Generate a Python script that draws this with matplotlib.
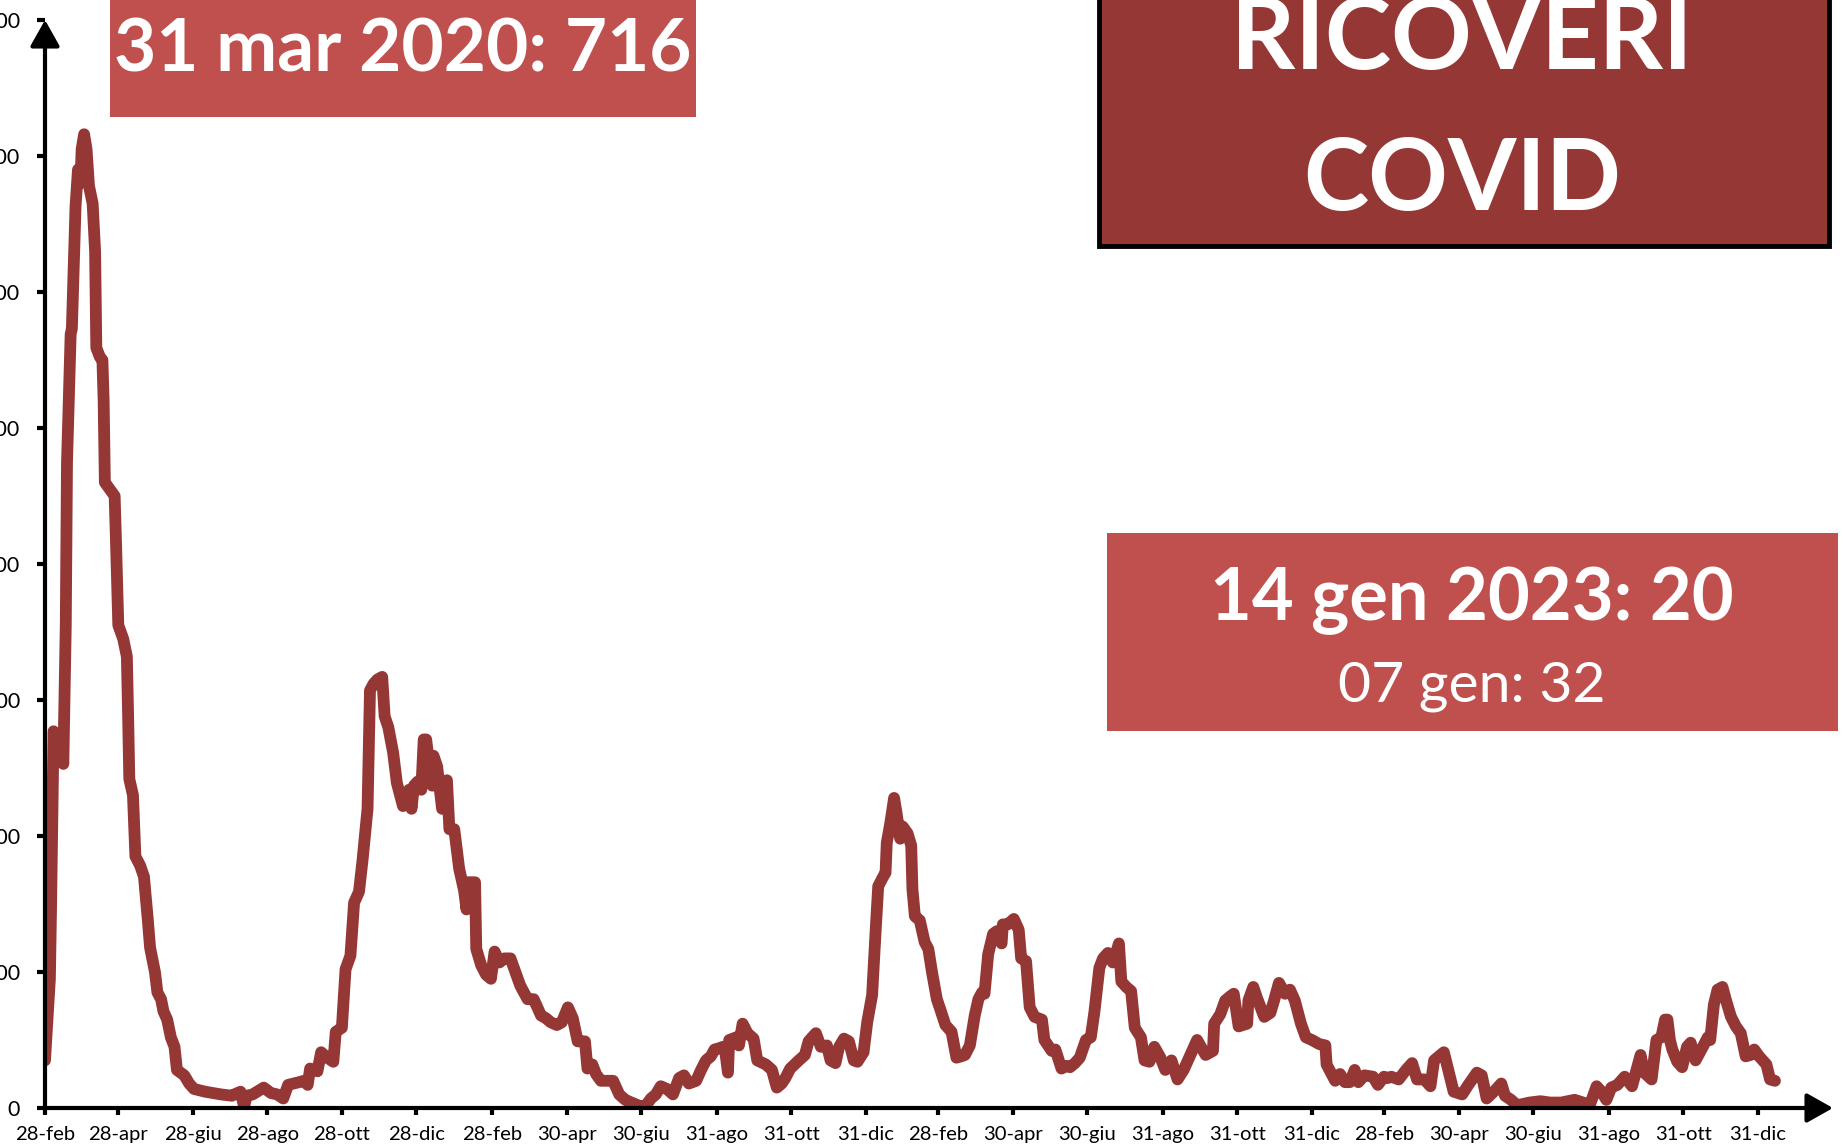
import numpy as np
import pandas as pd
import matplotlib
matplotlib.use("Agg")
import matplotlib.pyplot as plt
from matplotlib.patches import Rectangle

plt.rcParams["font.family"] = "Lato"

# daily covid admissions, x = days after 28 feb 2020
start = pd.Timestamp("2020-02-28")

days_2020 = [0, 4, 5, 7, 10, 14, 15, 17, 18, 21, 22, 25, 27, 29, 30, 32, 34, 36, 39,
             41, 42, 45, 47, 48, 49, 53, 57, 58, 60, 64, 67, 68, 69, 72, 74, 78, 81,
             84, 86, 90, 92, 95, 97, 100, 103, 106, 108, 114, 118, 122, 131, 144,
             153, 155, 160, 163, 165, 170, 179, 185, 190, 195, 199, 208, 212, 215,
             217, 223, 226, 231, 236, 238, 243, 246, 250, 253, 257, 260, 264, 266,
             269, 272, 276, 278, 281, 285, 288, 293, 296, 298, 300, 302, 305]
vals_2020 = [35, 95, 150, 277, 270, 265, 253, 355, 474, 569, 573, 663, 690, 680, 705,
             716, 705, 678, 665, 630, 559, 552, 550, 520, 460, 455, 450, 420, 355,
             345, 332, 290, 242, 230, 185, 178, 170, 140, 118, 100, 85, 80, 71, 65,
             52, 45, 28, 24, 18, 14, 12, 10, 9, 10, 12, 1, 9, 10, 15, 11, 10, 7, 17,
             19, 20, 17, 29, 27, 41, 37, 34, 56, 59, 102, 112, 151, 159, 183, 220,
             307, 312, 315, 317, 288, 280, 261, 239, 222, 230, 234, 220, 237, 240]

days_2021 = [308, 310, 312, 314, 317, 318, 321, 325, 329, 331, 335, 339, 343, 345,
             346, 352, 353, 357, 361, 365, 368, 372, 376, 381, 385, 389, 395, 400,
             406, 410, 414, 419, 423, 428, 432, 436, 442, 444, 448, 451, 455, 465,
             470, 475, 480, 488, 492, 496, 500, 504, 509, 514, 519, 523, 527, 533,
             537, 541, 545, 548, 552, 555, 557, 559, 560, 566, 568, 571, 575, 580,
             583, 590, 595, 599, 603, 606, 610, 617, 622, 625, 631, 635, 640, 643,
             647, 650, 654, 658, 662, 665, 670]
vals_2021 = [234, 271, 271, 256, 237, 259, 251, 220, 241, 205, 205, 176, 160, 146,
             166, 166, 117, 105, 98, 95, 115, 107, 110, 110, 100, 90, 80, 80, 68, 66,
             63, 61, 63, 74, 66, 49, 49, 29, 32, 25, 20, 20, 10, 6, 4, 1, 2, 7, 10,
             16, 14, 10, 22, 24, 18, 20, 28, 35, 38, 43, 44, 45, 40, 26, 50, 52, 46,
             62, 55, 51, 35, 32, 28, 15, 18, 22, 29, 35, 39, 49, 55, 45, 46, 35, 33,
             45, 51, 49, 35, 34, 41]

days_2022 = [673, 677, 680, 682, 686, 688, 689, 692, 695, 697, 700, 702, 706, 709,
             710, 712, 716, 720, 723, 726, 730, 733, 737, 742, 746, 750, 753, 757,
             761, 764, 767, 769, 772, 776, 779, 783, 784, 788, 793, 797, 799, 803,
             806, 810, 816, 818, 824, 827, 832, 836, 839, 843, 847, 852, 856, 859,
             863, 866, 870, 874, 877, 879, 881, 885, 889, 892, 897, 900, 904, 908,
             913, 917, 922, 927, 932, 938, 943, 950, 956, 957, 962, 966, 970, 973,
             977, 984, 985, 989, 992, 998, 1003, 1006, 1010, 1015, 1019, 1023, 1028,
             1032, 1037]
vals_2022 = [63, 83, 132, 163, 170, 173, 195, 210, 228, 217, 198, 207, 202, 193, 161,
             141, 138, 122, 117, 100, 80, 72, 61, 56, 37, 38, 39, 46, 68, 80, 85, 84,
             113, 128, 130, 121, 135, 135, 139, 131, 110, 108, 74, 67, 65, 50, 42, 43,
             29, 31, 30, 33, 37, 50, 52, 71, 103, 110, 114, 107, 115, 121, 93, 89, 86,
             59, 52, 35, 34, 45, 37, 28, 35, 21, 28, 40, 50, 39, 42, 62, 69, 79, 82,
             84, 60, 62, 79, 89, 81, 67, 70, 79, 92, 84, 87, 79, 62, 52, 50]

days_2023 = [1043, 1048, 1049, 1056, 1060, 1064, 1068, 1072, 1075, 1080, 1087, 1091,
             1096, 1099, 1102, 1108, 1114, 1119, 1123, 1129, 1134, 1137, 1141, 1145,
             1150, 1153, 1160, 1165, 1172, 1176, 1180, 1187, 1192, 1195, 1200, 1205,
             1215, 1224, 1232, 1241, 1252, 1259, 1264, 1270, 1274, 1278, 1282, 1287,
             1293, 1299, 1306, 1309, 1315, 1319, 1323, 1326, 1328, 1330, 1332, 1336,
             1340, 1344, 1347, 1351, 1357, 1361, 1363, 1366, 1369, 1373, 1376, 1380,
             1384, 1388, 1392, 1396, 1399, 1403, 1409, 1412, 1416]
vals_2023 = [47, 46, 32, 20, 25, 19, 19, 28, 19, 24, 23, 17, 23, 22, 23, 21, 28, 33,
             21, 21, 16, 35, 38, 41, 23, 12, 10, 17, 26, 24, 7, 13, 18, 9, 6, 2, 4, 5,
             4, 4, 6, 4, 1, 16, 12, 6, 15, 17, 23, 16, 39, 26, 21, 50, 52, 65, 65, 50,
             43, 34, 30, 45, 48, 35, 45, 52, 50, 76, 87, 89, 79, 67, 60, 55, 38, 39,
             43, 38, 32, 21, 20]

tick_dates = ["2020-02-28", "2020-04-28", "2020-06-28", "2020-08-28", "2020-10-28",
              "2020-12-28", "2021-02-28", "2021-04-30", "2021-06-30", "2021-08-31",
              "2021-10-31", "2021-12-31", "2022-02-28", "2022-04-30", "2022-06-30",
              "2022-08-31", "2022-10-31", "2022-12-31", "2023-02-28", "2023-04-30",
              "2023-06-30", "2023-08-31", "2023-10-31", "2023-12-31"]
tick_labels = ["28-feb", "28-apr", "28-giu", "28-ago", "28-ott", "28-dic",
               "28-feb", "30-apr", "30-giu", "31-ago", "31-ott", "31-dic",
               "28-feb", "30-apr", "30-giu", "31-ago", "31-ott", "31-dic",
               "28-feb", "30-apr", "30-giu", "31-ago", "31-ott", "31-dic"]
y_ticks = [0, 100, 200, 300, 400, 500, 600, 700, 800]

peak_text = "31 mar 2020: 716"
title_lines = ["RICOVERI", "COVID"]
last_text = "14 gen 2023: 20"
prev_text = "07 gen: 32"

LINE = "#953735"
BOX = "#C0504D"
W, H = 1845, 1147


def fx(px):
    return px / W


def fy(px):
    # px measured from the top of the picture
    return 1 - px / H


days = np.concatenate([days_2020, days_2021, days_2022, days_2023])
vals = np.concatenate([vals_2020, vals_2021, vals_2022, vals_2023])
dates = start + pd.to_timedelta(days, unit="D")

fig = plt.figure(figsize=(W / 100, H / 100), dpi=100)
ax = fig.add_axes([fx(45), fy(1108), fx(1833 - 45), (1108 - 20) / H])

ax.plot(dates, vals, color=LINE, lw=8.5,
        solid_joinstyle="round", solid_capstyle="round", zorder=3)

ax.set_xlim(start, start + pd.Timedelta(days=1463.5))
ax.set_ylim(0, 800)

for s in ax.spines.values():
    s.set_visible(False)

arrow = dict(arrowstyle="-|>,head_length=0.8,head_width=0.45", color="black",
             lw=3, mutation_scale=20, shrinkA=0, shrinkB=0)
ax.annotate("", xy=(1, 0), xytext=(0, 0), xycoords="axes fraction",
            arrowprops=arrow, annotation_clip=False, zorder=5)
ax.annotate("", xy=(0, 1), xytext=(0, 0), xycoords="axes fraction",
            arrowprops=arrow, annotation_clip=False, zorder=5)

ax.set_xticks(pd.to_datetime(tick_dates))
ax.set_xticklabels(tick_labels)
ax.set_yticks(y_ticks)
ax.set_yticklabels([str(v) for v in y_ticks])
ax.tick_params(axis="x", direction="out", length=5, width=3, pad=8,
               labelsize=14.6, colors="black")
ax.tick_params(axis="y", direction="out", length=6, width=3, pad=12,
               labelsize=15.5, colors="black")

# boxes
fig.add_artist(Rectangle((fx(110), fy(117)), fx(696 - 110), 200 / H,
                         transform=fig.transFigure, facecolor=BOX,
                         edgecolor="none", zorder=1))
fig.text(fx(403), fy(71), peak_text, color="white", fontsize=52.5,
         fontweight="bold", ha="center", va="baseline", zorder=2)

fig.add_artist(Rectangle((fx(1099), fy(246)), fx(1829 - 1099), 300 / H,
                         transform=fig.transFigure, facecolor=LINE,
                         edgecolor="black", lw=3.5, zorder=1))
fig.text(fx(1462), fy(69), title_lines[0], color="white", fontsize=72,
         fontweight="bold", ha="center", va="baseline", zorder=2)
fig.text(fx(1462), fy(210), title_lines[1], color="white", fontsize=71,
         fontweight="bold", ha="center", va="baseline", zorder=2)

fig.add_artist(Rectangle((fx(1107), fy(731)), fx(1838 - 1107), (731 - 533) / H,
                         transform=fig.transFigure, facecolor=BOX,
                         edgecolor="none", zorder=1))
fig.text(fx(1472), fy(620), last_text, color="white", fontsize=52,
         fontweight="bold", ha="center", va="baseline", zorder=2)
fig.text(fx(1472), fy(702), prev_text, color="white", fontsize=41,
         ha="center", va="baseline", zorder=2)

fig.savefig("out.png", dpi=100)
plt.close(fig)
